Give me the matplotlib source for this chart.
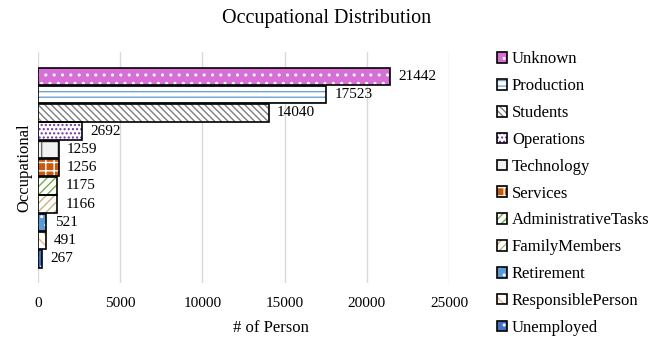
import matplotlib.pyplot as plt
from matplotlib.legend_handler import HandlerTuple

plt.rcParams['font.family'] = ['Liberation Serif', 'DejaVu Serif']
plt.rcParams['hatch.linewidth'] = 1.0

# data, top bar first
labels = ['Unknown', 'Production', 'Students', 'Operations', 'Technology', 'Services',
          'AdministrativeTasks', 'FamilyMembers', 'Retirement', 'ResponsiblePerson', 'Unemployed']
counts = [21442, 17523, 14040, 2692, 1259, 1256, 1175, 1166, 521, 491, 267]
faces = ['#d670d6', 'white', 'white', 'white', '#f2f2f2', '#c55a11',
         'white', 'white', '#5b9bd5', 'white', '#4472c4']
hatch_cols = ['white', '#6fa3d8', '#7f7f7f', '#7030a0', '#6f6f6f', 'white',
              '#70ad47', '#c9b27c', 'white', '#f4b183', 'white']
hatches = ['..', '---', '\\\\\\\\\\', '....', '+', '++', '////', '////', '..', '\\\\\\', '..']

fig = plt.figure(figsize=(6.54, 3.47), dpi=100)
ax = fig.add_axes([0.058, 0.184, 0.6285, 0.666])

ypos = list(range(len(labels)))[::-1]
handles = []
for i in range(len(labels)):
    b1 = ax.barh(ypos[i], counts[i], height=0.96, color=faces[i], edgecolor=hatch_cols[i],
                 hatch=hatches[i], linewidth=0, zorder=3)
    b2 = ax.barh(ypos[i], counts[i], height=0.96, fill=False, edgecolor='black',
                 linewidth=1.2, zorder=4)
    ax.text(counts[i] + 500, ypos[i], str(counts[i]), va='center', ha='left', fontsize=11)
    handles.append((b1[0], b2[0]))

ax.set_xlim(0, 25000)
ax.set_ylim(-1.33, 11.33)
ax.set_xticks([0, 5000, 10000, 15000, 20000, 25000])
ax.set_yticks([])
ax.tick_params(axis='x', length=0, labelsize=11, pad=10)
ax.grid(axis='x', color='#d9d9d9', linewidth=1, zorder=0)
for s in ax.spines.values():
    s.set_visible(False)

ax.set_xlabel('# of Person', fontsize=12)
ax.xaxis.set_label_coords(0.567, -0.16)
ax.set_ylabel('Occupational', fontsize=12, labelpad=4)
fig.suptitle('Occupational Distribution', fontsize=14.5, x=0.5, y=0.975)

fig.legend(handles, labels, handler_map={tuple: HandlerTuple(ndivide=1, pad=0)},
           loc='upper left', bbox_to_anchor=(0.737, 0.895), frameon=False, fontsize=12,
           handlelength=0.6, handleheight=0.6, handletextpad=0.3, labelspacing=0.65)

fig.savefig('out.png', dpi=100)
